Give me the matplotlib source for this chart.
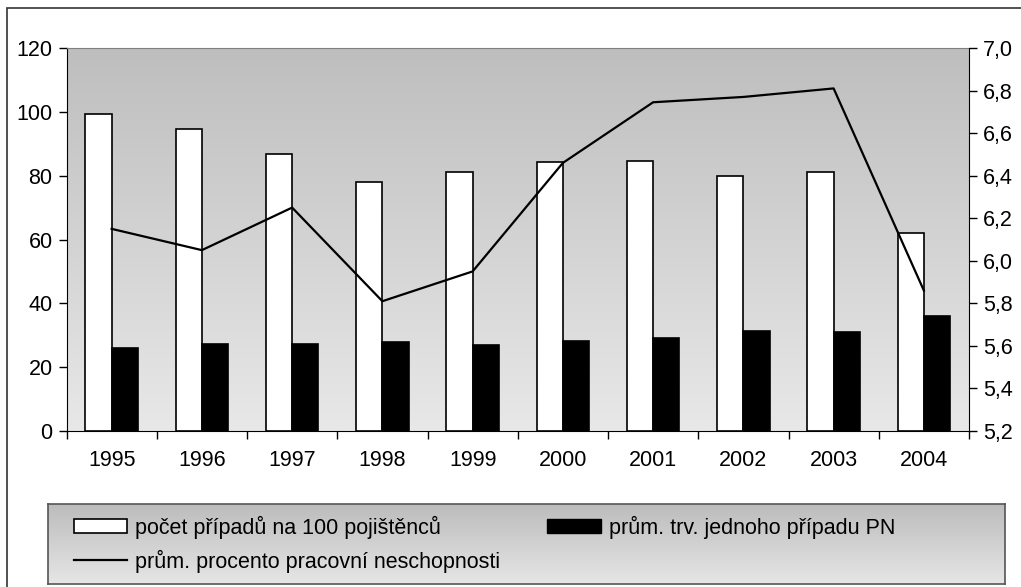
import numpy as np
import matplotlib
matplotlib.use("Agg")
import matplotlib.pyplot as plt
from matplotlib.patches import Patch, Rectangle
from matplotlib.lines import Line2D

plt.rcParams['font.family'] = ['Liberation Sans', 'DejaVu Sans']

years = ['1995', '1996', '1997', '1998', '1999', '2000', '2001', '2002', '2003', '2004']
pocet = [99.2, 94.7, 86.7, 77.9, 81.0, 84.2, 84.7, 79.8, 81.0, 62.1]
trvani = [25.9, 27.2, 27.2, 27.8, 27.1, 28.3, 29.0, 31.4, 30.9, 36.0]
procento = [6.15, 6.05, 6.25, 5.81, 5.95, 6.46, 6.745, 6.77, 6.81, 5.86]

left_ticks = [0, 20, 40, 60, 80, 100, 120]
right_ticks = [5.2, 5.4, 5.6, 5.8, 6.0, 6.2, 6.4, 6.6, 6.8, 7.0]
right_labels = ['5,2', '5,4', '5,6', '5,8', '6,0', '6,2', '6,4', '6,6', '6,8', '7,0']

lab_pocet = 'počet případů na 100 pojištěnců'
lab_trvani = 'prům. trv. jednoho případu PN'
lab_proc = 'prům. procento pracovní neschopnosti'

W, H = 1021, 587
fig = plt.figure(figsize=(W / 100, H / 100), dpi=100)
fs = 15.5

# outer frame
fig.patches.append(Rectangle((7 / W, -0.05), 1.1, 1 - 8 / H + 0.05, transform=fig.transFigure,
                             fill=False, edgecolor='#333333', linewidth=1.2))

ax = fig.add_axes([66.5 / W, (H - 431) / H, (969 - 66.5) / W, (431 - 48) / H])
x = np.arange(len(years))
w = 0.29

# gradient background
grad = np.linspace(0, 1, 256).reshape(-1, 1)
ax.imshow(grad, cmap=matplotlib.colors.LinearSegmentedColormap.from_list('g', ['#bebebe', '#e8e8e8']),
          extent=[-0.5, 9.5, 0, 120], aspect='auto', zorder=0, origin='upper')

ax.bar(x - w / 2, pocet, width=w, color='white', edgecolor='black', linewidth=1.2, zorder=2)
ax.bar(x + w / 2, trvani, width=w, color='black', edgecolor='black', linewidth=1.2, zorder=2)

ax.set_xlim(-0.5, 9.5)
ax.set_ylim(0, 120)
ax.set_yticks(left_ticks)
ax.set_xticks(np.arange(-0.5, 10, 1))
ax.set_xticklabels([])
ax.set_xticks(x, minor=True)
ax.set_xticklabels(years, minor=True)
ax.tick_params(axis='x', which='minor', length=0, pad=14, labelsize=fs)
ax.tick_params(axis='x', which='major', length=6, direction='out', width=1)
ax.tick_params(axis='y', length=6, direction='out', width=1, labelsize=fs, pad=4)
ax.spines['top'].set_color('#808080')
ax.spines['right'].set_visible(False)

ax2 = ax.twinx()
ax2.plot(x, procento, color='black', linewidth=1.6, zorder=3)
ax2.set_ylim(5.2, 7.0)
ax2.set_yticks(right_ticks)
ax2.set_yticklabels(right_labels)
ax2.tick_params(axis='y', length=6, direction='out', width=1, labelsize=fs, pad=4)
for s in ['top', 'left', 'bottom']:
    ax2.spines[s].set_visible(False)

# legend box with gradient
lax = fig.add_axes([48 / W, (H - 584) / H, (1005 - 48) / W, 80 / H])
lax.imshow(grad, cmap=matplotlib.colors.LinearSegmentedColormap.from_list('g2', ['#bcbcbc', '#e6e6e6']),
           extent=[0, 1, 0, 1], aspect='auto', origin='upper')
lax.set_xticks([])
lax.set_yticks([])
for s in lax.spines.values():
    s.set_color('#555555')
    s.set_linewidth(1.2)

handles = [Patch(facecolor='white', edgecolor='black', linewidth=1.2),
           Line2D([], [], color='black', linewidth=1.6),
           Patch(facecolor='black', edgecolor='black')]
labels = [lab_pocet, lab_proc, lab_trvani]
lax.legend(handles, labels, ncol=2, loc='center left', bbox_to_anchor=(0.0, 0.5), frameon=False,
           fontsize=fs, handlelength=2.47, handleheight=0.6, handletextpad=0.37, columnspacing=2.2,
           labelspacing=0.5, borderaxespad=0.8)

fig.savefig('out.png', dpi=100)
